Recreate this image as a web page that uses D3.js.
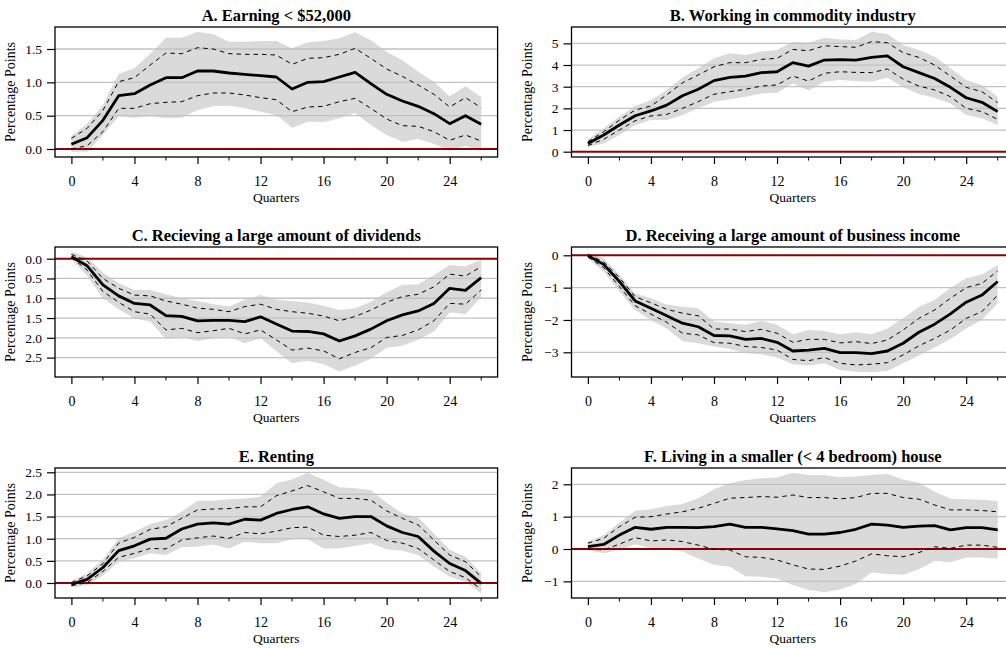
<!DOCTYPE html>
<html>
<head>
<meta charset="utf-8">
<script src="https://cdn.jsdelivr.net/npm/d3@7"></script>
<style>
  body { margin: 0; background: #fff; }
  svg { display: block; }
  svg text { font-family: "Liberation Serif", "Times New Roman", serif; }
</style>
</head>
<body>
<svg width="1006" height="648"></svg>
<script>

// quarters after the shock
const quarters = [0,1,2,3,4,5,6,7,8,9,10,11,12,13,14,15,16,17,18,19,20,21,22,23,24,25,26];

const titles = [
  "A. Earning < $52,000",
  "B. Working in commodity industry",
  "C. Recieving a large amount of dividends",
  "D. Receiving a large amount of business income",
  "E. Renting",
  "F. Living in a smaller (< 4 bedroom) house"
];

// A
const aEst    = [0.07,0.17,0.43,0.80,0.83,0.96,1.07,1.07,1.17,1.17,1.14,1.12,1.10,1.08,0.90,1.00,1.01,1.08,1.15,0.98,0.82,0.72,0.64,0.53,0.38,0.50,0.37];
const aHi     = [0.16,0.31,0.58,1.01,1.07,1.26,1.44,1.43,1.52,1.50,1.43,1.42,1.42,1.41,1.27,1.36,1.37,1.42,1.51,1.36,1.20,1.09,0.96,0.82,0.63,0.77,0.62];
const aLo     = [0.00,0.05,0.26,0.61,0.61,0.68,0.70,0.71,0.80,0.84,0.84,0.81,0.77,0.74,0.56,0.63,0.64,0.71,0.76,0.61,0.45,0.35,0.34,0.26,0.13,0.21,0.12];
const aBandHi = [0.19,0.38,0.66,1.13,1.21,1.43,1.67,1.67,1.76,1.72,1.61,1.61,1.62,1.62,1.51,1.60,1.62,1.66,1.75,1.63,1.46,1.33,1.16,1.01,0.79,0.94,0.78];
const aBandLo = [-0.04,-0.04,0.21,0.49,0.47,0.49,0.46,0.47,0.58,0.64,0.65,0.61,0.56,0.51,0.32,0.41,0.40,0.46,0.54,0.36,0.21,0.11,0.15,0.08,-0.03,0.05,-0.03];

// B
const bEst    = [0.38,0.77,1.23,1.66,1.88,2.15,2.58,2.88,3.28,3.43,3.49,3.65,3.69,4.11,3.95,4.23,4.25,4.23,4.35,4.42,3.92,3.65,3.38,2.97,2.49,2.28,1.85];
const bHi     = [0.46,0.92,1.46,1.92,2.11,2.62,3.18,3.54,3.92,4.11,4.11,4.26,4.31,4.72,4.66,4.89,4.85,4.82,5.08,5.03,4.57,4.35,4.00,3.49,2.97,2.77,2.26];
const bLo     = [0.28,0.57,1.00,1.43,1.65,1.72,2.00,2.31,2.65,2.77,2.88,3.03,3.08,3.49,3.26,3.62,3.69,3.66,3.65,3.82,3.35,3.03,2.85,2.54,2.00,1.85,1.49];
const bBandHi = [0.57,1.08,1.62,2.11,2.38,2.85,3.43,3.85,4.31,4.54,4.46,4.62,4.69,5.08,5.03,5.26,5.18,5.15,5.54,5.43,4.92,4.69,4.38,3.85,3.31,3.08,2.54];
const bBandLo = [0.23,0.38,0.77,1.23,1.46,1.46,1.69,2.00,2.31,2.42,2.54,2.69,2.72,3.15,2.82,3.23,3.31,3.26,3.23,3.43,2.97,2.66,2.49,2.23,1.69,1.54,1.23];

// C
const cEst    = [0.05,-0.18,-0.66,-0.94,-1.13,-1.17,-1.44,-1.46,-1.57,-1.56,-1.56,-1.59,-1.47,-1.65,-1.83,-1.84,-1.90,-2.08,-1.95,-1.78,-1.57,-1.42,-1.32,-1.13,-0.75,-0.80,-0.48];
const cHi     = [0.11,-0.06,-0.50,-0.75,-0.92,-0.94,-1.07,-1.15,-1.25,-1.28,-1.34,-1.21,-1.15,-1.28,-1.34,-1.38,-1.45,-1.57,-1.46,-1.30,-1.10,-0.96,-0.90,-0.71,-0.39,-0.44,-0.20];
const cLo     = [0.03,-0.29,-0.83,-1.10,-1.34,-1.40,-1.80,-1.76,-1.87,-1.82,-1.76,-1.90,-1.80,-2.05,-2.31,-2.26,-2.33,-2.53,-2.37,-2.25,-1.99,-1.94,-1.80,-1.57,-1.13,-1.15,-0.79];
const cBandHi = [0.18,0.03,-0.35,-0.62,-0.79,-0.79,-0.90,-1.00,-1.07,-1.15,-1.21,-1.04,-0.92,-1.04,-1.07,-1.11,-1.19,-1.30,-1.25,-1.09,-0.85,-0.66,-0.65,-0.41,-0.16,-0.20,-0.02];
const cBandLo = [-0.02,-0.43,-1.00,-1.28,-1.51,-1.59,-2.03,-1.97,-2.08,-2.01,-1.97,-2.14,-2.01,-2.33,-2.64,-2.58,-2.67,-2.85,-2.70,-2.53,-2.25,-2.20,-2.05,-1.84,-1.36,-1.40,-0.96];

// D
const dEst    = [-0.01,-0.28,-0.81,-1.41,-1.64,-1.87,-2.10,-2.21,-2.48,-2.49,-2.60,-2.57,-2.69,-2.96,-2.93,-2.88,-3.01,-3.01,-3.04,-2.96,-2.72,-2.38,-2.13,-1.81,-1.45,-1.23,-0.81];
const dHi     = [0.03,-0.20,-0.69,-1.28,-1.47,-1.67,-1.79,-1.87,-2.28,-2.28,-2.36,-2.29,-2.41,-2.69,-2.60,-2.60,-2.71,-2.67,-2.73,-2.62,-2.31,-1.95,-1.69,-1.33,-1.00,-0.87,-0.48];
const dLo     = [-0.05,-0.38,-0.97,-1.56,-1.82,-2.07,-2.41,-2.46,-2.70,-2.72,-2.82,-2.85,-2.93,-3.22,-3.26,-3.16,-3.34,-3.39,-3.37,-3.32,-3.08,-2.80,-2.57,-2.31,-1.95,-1.74,-1.23];
const dBandHi = [0.06,-0.09,-0.59,-1.18,-1.33,-1.52,-1.59,-1.64,-2.05,-2.10,-2.15,-2.03,-2.15,-2.44,-2.31,-2.34,-2.44,-2.38,-2.44,-2.26,-1.95,-1.59,-1.38,-1.00,-0.71,-0.59,-0.30];
const dBandLo = [-0.09,-0.51,-1.12,-1.69,-2.00,-2.26,-2.65,-2.72,-2.82,-2.90,-3.03,-3.06,-3.16,-3.37,-3.41,-3.34,-3.55,-3.60,-3.62,-3.58,-3.34,-3.10,-2.85,-2.59,-2.26,-2.00,-1.48];

// E
const eEst    = [-0.03,0.08,0.35,0.73,0.84,0.99,1.01,1.22,1.33,1.36,1.33,1.44,1.42,1.57,1.66,1.72,1.56,1.46,1.50,1.50,1.29,1.14,1.05,0.72,0.44,0.28,-0.01];
const eHi     = [0.01,0.16,0.44,0.90,1.03,1.21,1.27,1.46,1.65,1.67,1.68,1.72,1.72,1.97,2.08,2.20,2.06,1.91,1.91,1.87,1.63,1.46,1.31,0.97,0.63,0.48,0.14];
const eLo     = [-0.06,0.01,0.26,0.58,0.67,0.78,0.77,0.97,1.02,1.06,1.01,1.14,1.11,1.17,1.25,1.26,1.08,1.05,1.08,1.14,0.96,0.90,0.78,0.52,0.26,0.12,-0.14];
const eBandHi = [0.05,0.22,0.53,1.01,1.16,1.33,1.42,1.61,1.86,1.86,1.89,1.91,1.95,2.25,2.34,2.49,2.33,2.16,2.14,2.10,1.81,1.57,1.48,1.12,0.75,0.59,0.22];
const eBandLo = [-0.10,-0.05,0.17,0.48,0.56,0.67,0.63,0.81,0.82,0.87,0.78,0.93,0.90,0.90,0.99,0.99,0.78,0.78,0.84,0.90,0.76,0.73,0.63,0.37,0.14,0.03,-0.23];

// F
const fEst    = [0.07,0.14,0.43,0.67,0.61,0.67,0.67,0.66,0.69,0.77,0.67,0.67,0.62,0.57,0.46,0.46,0.51,0.61,0.77,0.74,0.67,0.71,0.72,0.59,0.66,0.66,0.59];
const fHi     = [0.18,0.33,0.69,0.98,1.00,1.08,1.15,1.26,1.41,1.57,1.59,1.62,1.60,1.67,1.59,1.59,1.55,1.59,1.72,1.72,1.59,1.54,1.36,1.21,1.21,1.19,1.15];
const fLo     = [0.00,-0.03,0.15,0.35,0.25,0.28,0.23,0.12,-0.01,-0.03,-0.24,-0.26,-0.34,-0.49,-0.62,-0.63,-0.53,-0.37,-0.15,-0.21,-0.24,-0.11,0.07,0.02,0.12,0.12,0.05];
const fBandHi = [0.23,0.43,0.81,1.18,1.23,1.33,1.39,1.57,1.85,2.03,2.13,2.19,2.21,2.36,2.29,2.29,2.22,2.24,2.29,2.32,2.15,2.05,1.77,1.55,1.54,1.52,1.48];
const fBandLo = [-0.05,-0.13,-0.03,0.15,0.02,0.00,-0.08,-0.29,-0.49,-0.55,-0.84,-0.86,-0.91,-1.11,-1.27,-1.34,-1.25,-1.08,-0.73,-0.77,-0.80,-0.63,-0.37,-0.41,-0.26,-0.26,-0.29];

// axis extents and ticks
const yDomains = [[-0.12,1.83],[-0.245,5.755],[-2.99,0.295],[-3.764,0.257],[-0.339,2.597],[-1.515,2.504]];
const yTicks = [
  [0,0.5,1,1.5],
  [0,1,2,3,4,5],
  [0,-0.5,-1,-1.5,-2,-2.5],
  [0,-1,-2,-3],
  [0,0.5,1,1.5,2,2.5],
  [-1,0,1,2]
];
const yTickLabels = [
  ["0.0","0.5","1.0","1.5"],
  ["0","1","2","3","4","5"],
  ["0.0","0.5","1.0","1.5","2.0","2.5"],
  ["0","\u22121","\u22122","\u22123"],
  ["0.0","0.5","1.0","1.5","2.0","2.5"],
  ["\u22121","0","1","2"]
];
const xMajor = [0,4,8,12,16,20,24];
const xMinor = [2,6,10,14,18,22,26];

const series = [
  [aEst,aLo,aHi,aBandLo,aBandHi],
  [bEst,bLo,bHi,bBandLo,bBandHi],
  [cEst,cLo,cHi,cBandLo,cBandHi],
  [dEst,dLo,dHi,dBandLo,dBandHi],
  [eEst,eLo,eHi,eBandLo,eBandHi],
  [fEst,fLo,fHi,fBandLo,fBandHi]
];

const colLeft = [55, 571.5];
const rowTop = [27, 247, 468];
const frameW = 442.6, frameH = 130;

const svg = d3.select("svg");

function drawPanel(i) {
  const [est, lo, hi, bandLo, bandHi] = series[i];
  const x0 = colLeft[i % 2], y0 = rowTop[Math.floor(i / 2)];

  const x = d3.scaleLinear().domain([-1.04, 27.04]).range([0, frameW]);
  const y = d3.scaleLinear().domain(yDomains[i]).range([frameH, 0]);

  const g = svg.append("g").attr("transform", `translate(${x0},${y0})`);

  g.append("clipPath").attr("id", "clip" + i)
    .append("rect").attr("width", frameW).attr("height", frameH);

  const plot = g.append("g").attr("clip-path", `url(#clip${i})`);

  const rows = quarters.map((q, k) => ({ q, est: est[k], lo: lo[k], hi: hi[k], bl: bandLo[k], bh: bandHi[k] }));

  plot.append("path")
    .datum(rows)
    .attr("fill", "#dadada")
    .attr("d", d3.area().x(d => x(d.q)).y0(d => y(d.bl)).y1(d => y(d.bh)));

  // grid
  plot.selectAll("line.grid")
    .data(yTicks[i].filter(t => t !== 0))
    .enter().append("line")
    .attr("x1", 0).attr("x2", frameW)
    .attr("y1", d => y(d)).attr("y2", d => y(d))
    .attr("stroke", "#c2c2c2").attr("stroke-width", 1.3);

  plot.append("line")
    .attr("x1", 0).attr("x2", frameW)
    .attr("y1", y(0)).attr("y2", y(0))
    .attr("stroke", "#8b0000").attr("stroke-width", 2);

  const dashed = key => d3.line().x(d => x(d.q)).y(d => y(d[key]));
  ["lo", "hi"].forEach(key => {
    plot.append("path").datum(rows)
      .attr("fill", "none").attr("stroke", "#000")
      .attr("stroke-width", 1).attr("stroke-dasharray", "4.5,4")
      .attr("d", dashed(key));
  });

  plot.append("path").datum(rows)
    .attr("fill", "none").attr("stroke", "#000")
    .attr("stroke-width", 2.8).attr("stroke-linejoin", "round")
    .attr("d", dashed("est"));

  g.append("rect")
    .attr("width", frameW).attr("height", frameH)
    .attr("fill", "none").attr("stroke", "#000").attr("stroke-width", 1.3);

  // y axis
  const yAx = g.append("g")
    .call(d3.axisLeft(y).tickValues(yTicks[i]).tickSize(8).tickPadding(5)
      .tickFormat((d, k) => yTickLabels[i][k]))
    .attr("font-family", null).attr("font-size", 13.5);
  yAx.select(".domain").remove();
  yAx.selectAll("line").attr("stroke-width", 1.2);
  yAx.selectAll("text").attr("fill", "#000");

  // x axis
  const xAx = g.append("g").attr("transform", `translate(0,${frameH})`)
    .call(d3.axisBottom(x).tickValues(xMajor).tickSize(7).tickPadding(12))
    .attr("font-family", null).attr("font-size", 14);
  xAx.select(".domain").remove();
  xAx.selectAll("line").attr("stroke-width", 1.2);
  xAx.selectAll("text").attr("fill", "#000");

  g.append("g").attr("transform", `translate(0,${frameH})`)
    .selectAll("line").data(xMinor).enter().append("line")
    .attr("x1", d => x(d)).attr("x2", d => x(d))
    .attr("y1", 0).attr("y2", 3.5)
    .attr("stroke", "#000").attr("stroke-width", 1);

  g.append("text")
    .attr("x", frameW / 2).attr("y", frameH + 45)
    .attr("text-anchor", "middle").attr("font-size", 13.5)
    .text("Quarters");

  g.append("text")
    .attr("transform", `translate(-40,${frameH / 2}) rotate(-90)`)
    .attr("text-anchor", "middle").attr("font-size", 14)
    .text("Percentage Points");

  g.append("text")
    .attr("x", frameW / 2).attr("y", -6)
    .attr("text-anchor", "middle").attr("font-size", 16.5).attr("font-weight", "bold")
    .text(titles[i]);
}

for (let i = 0; i < 6; i++) drawPanel(i);
</script>
</body>
</html>
